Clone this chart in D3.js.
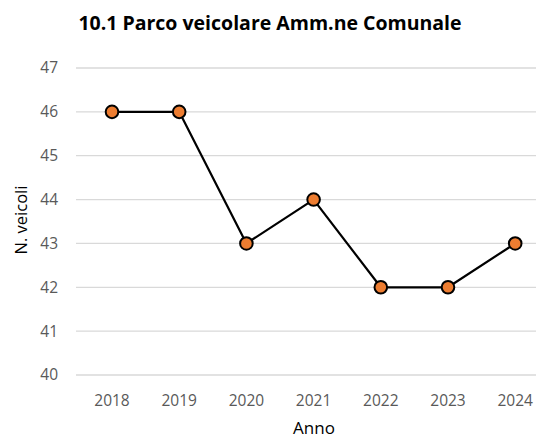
<!DOCTYPE html>
<html><head><meta charset="utf-8">
<script src="https://cdn.jsdelivr.net/npm/d3@7"></script>
<style>body{margin:0;background:#fff}svg{display:block}</style>
</head><body>
<svg id="c" width="536" height="439"></svg>
<script>
const years = ["2018","2019","2020","2021","2022","2023","2024"];
const vehicles = [46,46,43,44,42,42,43];
const yTicks = [40,41,42,43,44,45,46,47];
const title = "10.1 Parco veicolare Amm.ne Comunale";
const xTitle = "Anno";
const yTitle = "N. veicoli";

const svg = d3.select("#c");
const font = "'Open Sans', 'Noto Sans', sans-serif";
const x = d3.scaleBand().domain(years).range([78.4, 548.8]).padding(0);
const y = d3.scaleLinear().domain([40,47]).range([375,68]);
const cx = d => x(d) + x.bandwidth()/2;

svg.append("g").selectAll("line").data(yTicks).join("line")
  .attr("x1",76).attr("x2",536).attr("y1",d=>y(d)).attr("y2",d=>y(d))
  .attr("stroke","#d9d9d9").attr("stroke-width",1.3);

svg.append("g").selectAll("text").data(yTicks).join("text")
  .attr("x",58).attr("y",d=>y(d)).attr("dy","0.35em").attr("text-anchor","end")
  .attr("font-family",font).attr("font-size",15.5).attr("fill","#595959").text(d=>d);

svg.append("g").selectAll("text").data(years).join("text")
  .attr("x",d=>cx(d)).attr("y",401).attr("dy","0.35em").attr("text-anchor","middle")
  .attr("font-family",font).attr("font-size",15.5).attr("fill","#595959").text(d=>d);

const line = d3.line().x((d,i)=>cx(years[i])).y(d=>y(d));
svg.append("path").datum(vehicles).attr("d",line).attr("fill","none")
  .attr("stroke","#000").attr("stroke-width",2.2).attr("stroke-linejoin","round");

svg.append("g").selectAll("circle").data(vehicles).join("circle")
  .attr("cx",(d,i)=>cx(years[i])).attr("cy",d=>y(d)).attr("r",6.3)
  .attr("fill","#ED7D31").attr("stroke","#000").attr("stroke-width",2);

svg.append("text").attr("x",270).attr("y",30).attr("text-anchor","middle")
  .attr("font-family",font).attr("font-weight","bold").attr("font-size",19.5).attr("fill","#000").text(title);

svg.append("text").attr("x",314).attr("y",434).attr("text-anchor","middle")
  .attr("font-family",font).attr("font-size",17).attr("fill","#000").text(xTitle);

svg.append("text").attr("transform","translate(21,220) rotate(-90)").attr("dy","0.35em").attr("text-anchor","middle")
  .attr("font-family",font).attr("font-size",16.5).attr("fill","#000").text(yTitle);
</script>
</body></html>
